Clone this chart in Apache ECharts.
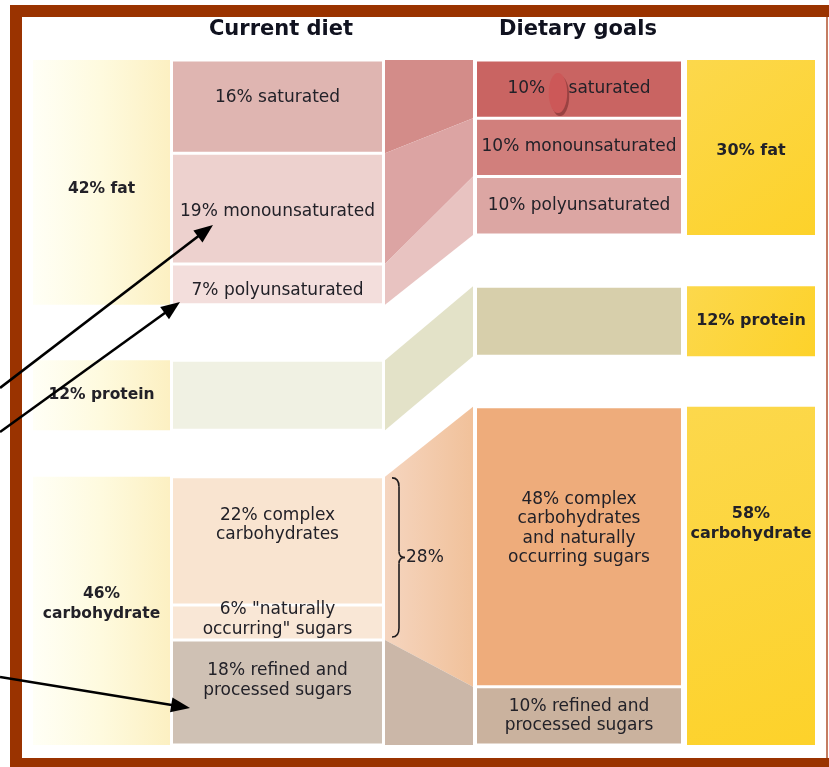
<!DOCTYPE html>
<html>
<head>
<meta charset="utf-8">
<script src="https://cdn.jsdelivr.net/npm/echarts@6/dist/echarts.min.js"></script>
<style>
  html, body { margin: 0; padding: 0; background: #fff; }
  #chart { width: 829px; height: 767px; }
</style>
</head>
<body>
<div id="chart"></div>
<script>
// ---- data (percent of energy) ----
const currentTotals = [42, 12, 46];
const currentGroupLabels = ['42% fat', '12% protein', '46%\ncarbohydrate'];
const goalTotals = [30, 12, 58];
const goalGroupLabels = ['30% fat', '12% protein', '58%\ncarbohydrate'];

const currentParts = [16, 19, 7, 12, 22, 6, 18];
const currentPartGroup = [0, 0, 0, 1, 2, 2, 2];
const currentPartLabels = [
  '16% saturated', '19% monounsaturated', '7% polyunsaturated', '',
  '22% complex\ncarbohydrates', '6% "naturally\noccurring" sugars', '18% refined and\nprocessed sugars'
];

const goalParts = [10, 10, 10, 12, 48, 10];
const goalPartGroup = [0, 0, 0, 1, 2, 2];
const goalPartLabels = [
  '10% {gap| }saturated', '10% monounsaturated', '10% polyunsaturated', '',
  '48% complex\ncarbohydrates\nand naturally\noccurring sugars', '10% refined and\nprocessed sugars'
];

// current parts that flow into each goal part
const flowFrom = [[0], [1], [2], [3], [4, 5], [6]];
const flowTo = [0, 1, 2, 3, 4, 5];

// bracket over complex + natural sugars
const bracketParts = [4, 5];
const bracketLabel = '28%';

// ---- layout / styles ----
const currentGaps = [0, 9.5, 8];
const goalGaps = [0, 8.8, 8.7];
const Y_MAX = 117.5;
const X = {
  panel: [33, 170], current: [173, 382], flow: [385, 473],
  goal: [477, 681], side: [687, 815], brace: [392, 399, 405]
};
const currentGroupShift = [7, 0, -7];
const goalGroupShift = [3, 0, -52];
const currentLabelShift = [-9, 3, 6, 0, -16, -3, -12];
const goalLabelShift = [-1, -1, 0, 0, -18, 0];

const currentColors = ['#dfb5b1', '#edd1ce', '#f3dedc', '#f0f1e3', '#f9e4d0', '#f9e7d6', '#cfc1b4'];
const goalColors = ['#c96462', '#d17f7c', '#dca6a3', '#d7cfab', '#eeac7b', '#cab29e'];
const flowColors = ['#d38c89', '#dca4a3', '#e8c3c1', '#e3e2c8',
  { type: 'linear', x: 0, y: 0, x2: 1, y2: 0, colorStops: [{ offset: 0, color: '#f5d5bf' }, { offset: 1, color: '#f1c19a' }] },
  '#cbb7a8'];
const panelFill = { type: 'linear', x: 0, y: 0, x2: 1, y2: 0, colorStops: [{ offset: 0, color: '#fffff6' }, { offset: 0.5, color: '#fefade' }, { offset: 1, color: '#fcf0c2' }] };
const sideFill = { type: 'linear', x: 0, y: 0, x2: 1, y2: 1, colorStops: [{ offset: 0, color: '#fcd84c' }, { offset: 1, color: '#fdd22a' }] };
const INK = '#222128';
const FONT = '"DejaVu Sans", Arial, sans-serif';
const BROWN = '#9a3300';

function stack(totals, gaps, parts, partGroup) {
  const groupY = [];
  let y = 0;
  totals.forEach((t, g) => { y += gaps[g]; groupY.push([y, y + t]); y += t; });
  const cursor = groupY.map(r => r[0]);
  const partY = parts.map((v, i) => {
    const g = partGroup[i];
    const r = [cursor[g], cursor[g] + v];
    cursor[g] += v;
    return r;
  });
  return { groupY, partY };
}

const cur = stack(currentTotals, currentGaps, currentParts, currentPartGroup);
const goal = stack(goalTotals, goalGaps, goalParts, goalPartGroup);

const shapes = [];
cur.groupY.forEach((r, g) => shapes.push({ kind: 'box', x: X.panel, y: r, fill: panelFill, label: currentGroupLabels[g], bold: true, size: 15.5, shift: currentGroupShift[g] }));
cur.partY.forEach((r, i) => shapes.push({ kind: 'box', x: X.current, y: r, fill: currentColors[i], label: currentPartLabels[i], shift: currentLabelShift[i], inset: 1.5 }));
flowTo.forEach((t, k) => {
  const from = flowFrom[k];
  shapes.push({ kind: 'flow', x: X.flow, from: [cur.partY[from[0]][0], cur.partY[from[from.length - 1]][1]], to: goal.partY[t], fill: flowColors[k] });
});
goal.partY.forEach((r, i) => shapes.push({ kind: 'box', x: X.goal, y: r, fill: goalColors[i], label: goalPartLabels[i], shift: goalLabelShift[i], inset: 1.5 }));
goal.groupY.forEach((r, g) => shapes.push({ kind: 'box', x: X.side, y: r, fill: sideFill, label: goalGroupLabels[g], bold: true, size: 16, shift: goalGroupShift[g] }));
shapes.push({ kind: 'brace', y: [cur.partY[bracketParts[0]][0], cur.partY[bracketParts[bracketParts.length - 1]][1]], label: bracketLabel });

function textEl(text, x, y, opt) {
  return {
    type: 'text',
    style: {
      text: text, x: x, y: y,
      align: opt.align || 'center', verticalAlign: 'middle',
      textAlign: opt.align || 'center', textVerticalAlign: 'middle',
      fill: INK, fontFamily: FONT,
      fontSize: opt.size || 17, fontWeight: opt.bold ? 'bold' : 'normal',
      lineHeight: opt.bold ? 20 : 19.5,
      rich: { gap: { width: 18 } }
    }
  };
}

function renderItem(params, api) {
  const s = shapes[params.dataIndex];
  const pt = (x, y) => api.coord([x, y]);
  const kids = [];
  if (s.kind === 'box') {
    const a = pt(s.x[0], s.y[0]);
    const b = pt(s.x[1], s.y[1]);
    const ins = s.inset || 0;
    kids.push({ type: 'rect', shape: { x: a[0], y: a[1] + ins, width: b[0] - a[0], height: b[1] - a[1] - 2 * ins }, style: { fill: s.fill } });
    if (s.label) kids.push(textEl(s.label, (a[0] + b[0]) / 2, (a[1] + b[1]) / 2 + (s.shift || 0), { bold: s.bold, size: s.size }));
  } else if (s.kind === 'flow') {
    kids.push({
      type: 'polygon',
      shape: { points: [pt(s.x[0], s.from[0]), pt(s.x[1], s.to[0]), pt(s.x[1], s.to[1]), pt(s.x[0], s.from[1])] },
      style: { fill: s.fill }
    });
  } else if (s.kind === 'brace') {
    const top = pt(X.brace[0], s.y[0]);
    const bot = pt(X.brace[0], s.y[1]);
    const xl = top[0], xm = pt(X.brace[1], 0)[0], xr = pt(X.brace[2], 0)[0];
    const y0 = top[1] + 1, y1 = bot[1] - 3, ym = (y0 + y1) / 2;
    const st = { stroke: '#1e1b1e', lineWidth: 1.6, fill: null };
    kids.push(
      { type: 'bezierCurve', shape: { x1: xl, y1: y0, cpx1: xm, cpy1: y0, x2: xm, y2: y0 + 9 }, style: st },
      { type: 'line', shape: { x1: xm, y1: y0 + 9, x2: xm, y2: ym - 6 }, style: st },
      { type: 'bezierCurve', shape: { x1: xm, y1: ym - 6, cpx1: xm, cpy1: ym, x2: xr, y2: ym }, style: st },
      { type: 'bezierCurve', shape: { x1: xr, y1: ym, cpx1: xm, cpy1: ym, x2: xm, y2: ym + 6 }, style: st },
      { type: 'line', shape: { x1: xm, y1: ym + 6, x2: xm, y2: y1 - 9 }, style: st },
      { type: 'bezierCurve', shape: { x1: xm, y1: y1 - 9, cpx1: xm, cpy1: y1, x2: xl, y2: y1 }, style: st }
    );
    kids.push(textEl(s.label, xr + 1, ym, { align: 'left' }));
  }
  return { type: 'group', children: kids };
}

// annotation arrows (pointing at the unsaturated fats and refined sugars)
function arrow(x0, y0, x1, y1) {
  const dx = x1 - x0, dy = y1 - y0, len = Math.hypot(dx, dy);
  const ux = dx / len, uy = dy / len, hl = 19, hw = 7.5;
  const bx = x1 - ux * hl, by = y1 - uy * hl;
  return [
    { type: 'line', z: 120, shape: { x1: x0, y1: y0, x2: bx + ux * 2, y2: by + uy * 2 }, style: { stroke: '#000', lineWidth: 2.6 } },
    { type: 'polygon', z: 120, shape: { points: [[x1, y1], [bx - uy * hw, by + ux * hw], [bx + uy * hw, by - ux * hw]] }, style: { fill: '#000' } }
  ];
}

const headerStyle = (t) => ({ text: t, align: 'center', verticalAlign: 'middle', textAlign: 'center', textVerticalAlign: 'middle', fill: '#10121f', fontFamily: FONT, fontSize: 21, fontWeight: 'bold' });

const graphicEls = [
  { type: 'text', x: 281, y: 30, z: 110, style: headerStyle('Current diet') },
  { type: 'text', x: 578, y: 30, z: 110, style: headerStyle('Dietary goals') },
  { type: 'rect', z: 100, shape: { x: 10, y: 5, width: 819, height: 12 }, style: { fill: BROWN } },
  { type: 'rect', z: 100, shape: { x: 10, y: 5, width: 12, height: 762 }, style: { fill: BROWN } },
  { type: 'rect', z: 100, shape: { x: 10, y: 758, width: 819, height: 9 }, style: { fill: BROWN } },
  { type: 'rect', z: 100, shape: { x: 826, y: 17, width: 2, height: 741 }, style: { fill: '#c47d62' } },
  { type: 'circle', z: 115, x: 560, y: 96, scaleX: 0.46, shape: { cx: 0, cy: 0, r: 20 }, style: { fill: '#9a4242' } },
  { type: 'circle', z: 116, x: 558, y: 93, scaleX: 0.46, shape: { cx: 0, cy: 0, r: 20 }, style: { fill: '#cc5858' } }
].concat(arrow(0, 388, 213, 225), arrow(0, 432, 180, 302), arrow(0, 677, 190, 708));

const chart = echarts.init(document.getElementById('chart'), null, { renderer: 'canvas' });
chart.setOption({
  animation: false,
  backgroundColor: '#ffffff',
  grid: { left: 0, right: 0, top: 60, bottom: 22 },
  xAxis: { type: 'value', min: 0, max: 829, show: false },
  yAxis: { type: 'value', min: 0, max: Y_MAX, inverse: true, show: false },
  graphic: { elements: graphicEls },
  series: [{
    type: 'custom',
    silent: true,
    clip: false,
    renderItem: renderItem,
    encode: { x: 0, y: 1 },
    data: shapes.map((s, i) => [s.x ? s.x[0] : X.brace[0], s.y ? s.y[0] : s.from[0], i])
  }]
});
</script>
</body>
</html>
